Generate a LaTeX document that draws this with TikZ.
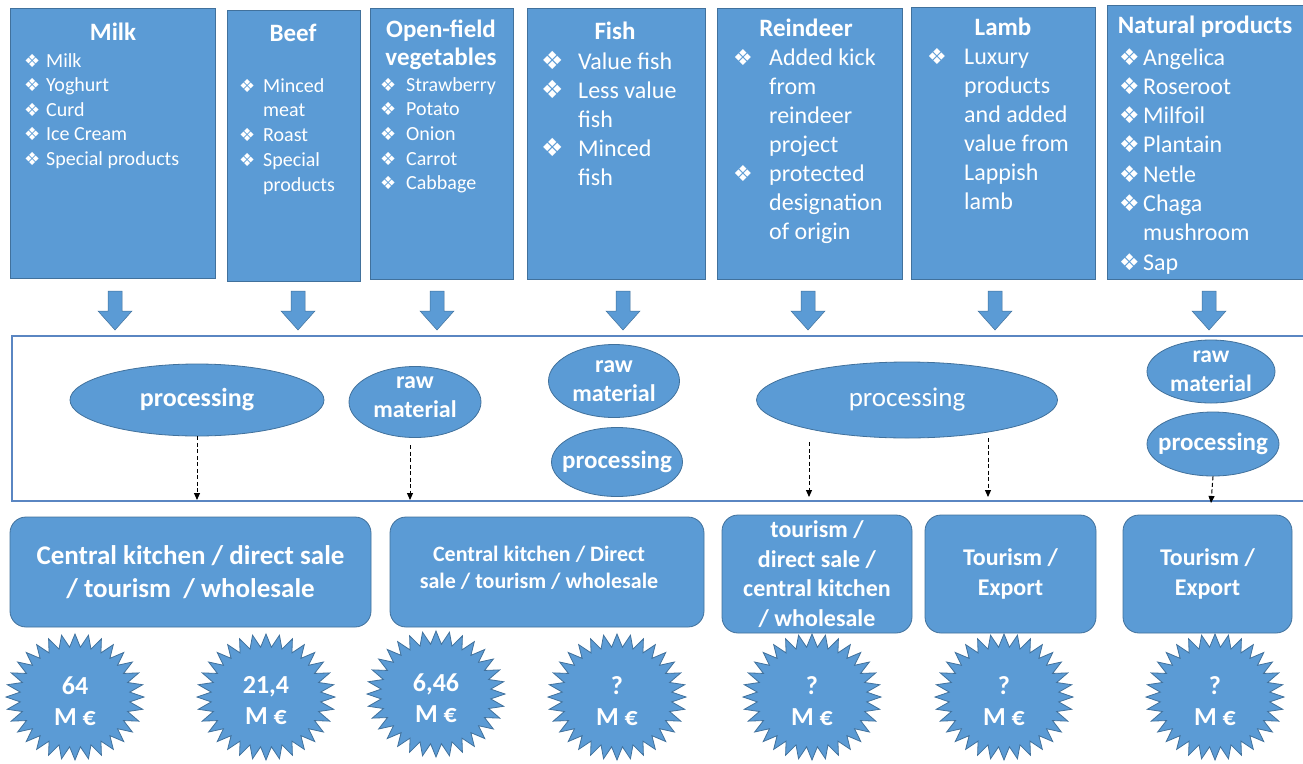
\documentclass[tikz,border=0pt]{standalone}
\usepackage{fontspec}
\setmainfont{Carlito}
\newfontfamily\symfont{DejaVu Sans}
\usepackage{array}
\usetikzlibrary{shapes.geometric, arrows.meta}

\definecolor{boxblue}{HTML}{5B9BD5}
\definecolor{boxedge}{HTML}{41719C}
\definecolor{framecol}{HTML}{5A86C2}

% diamond bullet used in the product lists
\newcommand\bl[1][18]{{\symfont\fontsize{#1}{#1}\selectfont ❖}}

% 32-point burst with a value inside
\newcommand\moneystar[4]{%
  \filldraw[burstshape] plot[variable=\k, samples at={0,...,63}]
    ({#2+(69-14*mod(\k,2))*cos(90+\k*5.625)}, {#3+(63-13*mod(\k,2))*sin(90+\k*5.625)}) -- cycle;
  \node[bursttext] (#1) at (#2,{#3+4}) {#4};
}

\begin{document}
\begin{tikzpicture}[x=1pt, y=-1pt,
  topbox/.style={rectangle, draw=boxedge, line width=0.8pt, fill=boxblue, inner sep=0pt, anchor=north west},
  outbox/.style={rectangle, draw=boxedge, line width=0.8pt, fill=boxblue, rounded corners=16pt, inner sep=0pt, text=white, align=center},
  ovalnode/.style={ellipse, draw=boxedge, line width=0.8pt, fill=boxblue, inner sep=0pt},
  ovaltext/.style={text=white, align=center, inner sep=0pt},
  titletext/.style={text=white, font=\bfseries\fontsize{25}{30}\selectfont, inner sep=0pt, anchor=base},
  listtext/.style={text=white, inner sep=0pt, anchor=base west},
  blockarrow/.style={fill=boxblue, draw=boxedge, line width=0.5pt},
  flowarrow/.style={black, line width=1pt, dash pattern=on 4pt off 2.5pt, -{Triangle[length=7pt,width=6pt]}},
  burstshape/.style={fill=boxblue, draw=boxedge, line width=0.8pt},
  bursttext/.style={text=white, align=center, inner sep=0pt, font=\bfseries\fontsize{26}{31}\selectfont}]

\useasboundingbox (0,0) rectangle (1303,763);

% ---------- product groups ----------
\node[topbox, minimum width=205pt, minimum height=270pt] (milk) at (10,8) {};
\node[topbox, minimum width=133pt, minimum height=271pt] (beef) at (227,10) {};
\node[topbox, minimum width=143pt, minimum height=271pt] (veg) at (370,8) {};
\node[topbox, minimum width=178pt, minimum height=271pt] (fish) at (527,8) {};
\node[topbox, minimum width=185pt, minimum height=271pt] (reindeer) at (717,8) {};
\node[topbox, minimum width=184pt, minimum height=272pt] (lamb) at (911,7) {};
\node[topbox, minimum width=205pt, minimum height=274pt] (natural) at (1107,5) {};

\node[titletext] (milkT) at (113,40) {Milk};
\node[titletext] (beefT) at (293,41) {Beef};
\node[titletext] (vegT) at (441,37) {\begin{tabular}[t]{@{}c@{}}Open-field\\[-2pt]vegetables\end{tabular}};
\node[titletext] (fishT) at (615,39) {Fish};
\node[titletext] (reinT) at (806,36) {Reindeer};
\node[titletext] (lambT) at (1003,35) {Lamb};
\node[titletext] (natT) at (1205,33) {Natural products};

\node[listtext, font=\fontsize{20}{24.5}\selectfont] (milkL) at (24,67)
  {\begin{tabular}[t]{@{}p{22pt}@{}l@{}}
   \bl & Milk\\ \bl & Yoghurt\\ \bl & Curd\\ \bl & Ice Cream\\ \bl & Special products
   \end{tabular}};
\node[listtext, font=\fontsize{20}{24.8}\selectfont] (beefL) at (239,92)
  {\begin{tabular}[t]{@{}p{24pt}@{}l@{}}
   \bl & Minced\\ & meat\\ \bl & Roast\\ \bl & Special\\ & products
   \end{tabular}};
\node[listtext, font=\fontsize{20}{24.7}\selectfont] (vegL) at (380,91)
  {\begin{tabular}[t]{@{}p{26pt}@{}l@{}}
   \bl & Strawberry\\ \bl & Potato\\ \bl & Onion\\ \bl & Carrot\\ \bl & Cabbage
   \end{tabular}};
\node[listtext, font=\fontsize{24}{29}\selectfont] (fishL) at (541,69)
  {\begin{tabular}[t]{@{}p{37pt}@{}l@{}}
   \bl[25] & Value fish\\ \bl[25] & Less value\\ & fish\\ \bl[25] & Minced\\ & fish
   \end{tabular}};
\node[listtext, font=\fontsize{24}{29}\selectfont] (reinL) at (733,65)
  {\begin{tabular}[t]{@{}p{36pt}@{}l@{}}
   \bl[22] & Added kick\\ & from\\ & reindeer\\ & project\\ \bl[22] & protected\\ & designation\\ & of origin
   \end{tabular}};
\node[listtext, font=\fontsize{24}{29}\selectfont] (lambL) at (927,64)
  {\begin{tabular}[t]{@{}p{37pt}@{}l@{}}
   \bl[22] & Luxury\\ & products\\ & and added\\ & value from\\ & Lappish\\ & lamb
   \end{tabular}};
\node[listtext, font=\fontsize{24}{29.3}\selectfont] (natL) at (1119,65)
  {\begin{tabular}[t]{@{}p{24pt}@{}l@{}}
   \bl[23] & Angelica\\ \bl[23] & Roseroot\\ \bl[23] & Milfoil\\ \bl[23] & Plantain\\ \bl[23] & Netle\\ \bl[23] & Chaga\\ & mushroom\\ \bl[23] & Sap
   \end{tabular}};

% ---------- block arrows into the processing stage ----------
\foreach \ax in {115,298,437,623,808,995,1209}
  \filldraw[blockarrow] ({\ax-7},291) -- ({\ax+7},291) -- ({\ax+7},311) -- ({\ax+17},311)
     -- (\ax,330) -- ({\ax-17},311) -- ({\ax-7},311) -- cycle;

% ---------- processing stage ----------
\draw[framecol, line width=1.4pt] (1303,336) -- (12,336) -- (12,501) -- (1303,501);

\node[ovalnode, minimum width=254pt, minimum height=72pt] (procA) at (197,400) {};
\node[ovaltext, font=\bfseries\fontsize{26}{30}\selectfont] (procAt) at (procA) {processing};
\node[ovalnode, minimum width=132pt, minimum height=71pt] (rawA) at (415,402) {};
\node[ovaltext, font=\bfseries\fontsize{24}{29}\selectfont] (rawAt) at (415,397) {raw\\material};
\node[ovalnode, minimum width=131pt, minimum height=73pt] (rawB) at (614,381) {};
\node[ovaltext, font=\bfseries\fontsize{24}{29}\selectfont] (rawBt) at (rawB) {raw\\material};
\node[ovalnode, minimum width=131pt, minimum height=69pt] (procB) at (617,462) {};
\node[ovaltext, font=\bfseries\fontsize{25}{29}\selectfont] (procBt) at (procB) {processing};
\node[ovalnode, minimum width=301pt, minimum height=76pt] (procC) at (907,400) {};
\node[ovaltext, font=\fontsize{27}{30}\selectfont] (procCt) at (procC) {processing};
\node[ovalnode, minimum width=128pt, minimum height=63pt] (rawC) at (1211,371.5) {};
\node[ovaltext, font=\bfseries\fontsize{23.5}{29}\selectfont] (rawCt) at (rawC) {raw\\material};
\node[ovalnode, minimum width=132pt, minimum height=64pt] (procD) at (1213,444) {};
\node[ovaltext, font=\bfseries\fontsize{25}{29}\selectfont] (procDt) at (procD) {processing};

\coordinate (endA) at (197,500);
\coordinate (startB) at (410,445);
\coordinate (endB) at (410,500);
\coordinate (startC) at (809,442);
\coordinate (endC) at (809,497);
\coordinate (startD) at (988,438);
\coordinate (endD) at (988,497);
\coordinate (endE) at (1211,503);

\draw[flowarrow] (procA.south) -- (endA);
\draw[flowarrow] (startB) -- (endB);
\draw[flowarrow] (startC) -- (endC);
\draw[flowarrow] (startD) -- (endD);
\draw[flowarrow] (procD.south) -- (endE);

% ---------- sales channels ----------
\node[outbox, minimum width=361pt, minimum height=110pt, font=\bfseries\fontsize{27}{33}\selectfont] (outA) at (190.5,572)
  {Central kitchen / direct sale\\/ tourism~~/ wholesale};
\node[outbox, minimum width=314pt, minimum height=110pt] (outB) at (547,572) {};
\node[ovaltext, font=\bfseries\fontsize{22}{27}\selectfont] (outBt) at (539,568)
  {Central kitchen / Direct\\sale / tourism / wholesale};
\node[outbox, minimum width=190pt, minimum height=118pt, font=\bfseries\fontsize{24}{29.5}\selectfont] (outC) at (817,574)
  {tourism /\\direct sale /\\central kitchen\\/ wholesale};
\node[outbox, minimum width=171pt, minimum height=118pt, font=\bfseries\fontsize{24}{30}\selectfont] (outD) at (1010.5,574)
  {Tourism /\\Export};
\node[outbox, minimum width=169pt, minimum height=118pt, font=\bfseries\fontsize{24}{30}\selectfont] (outE) at (1207.5,574)
  {Tourism /\\Export};

% ---------- value bursts ----------
\moneystar{valA}{75}{697}{64\\M €}
\moneystar{valB}{266}{697}{21,4\\M €}
\moneystar{valC}{436}{694}{6,46\\M €}
\moneystar{valD}{617}{697}{?\\M €}
\moneystar{valE}{812}{697}{?\\M €}
\moneystar{valF}{1004}{697}{?\\M €}
\moneystar{valG}{1215}{697}{?\\M €}

\end{tikzpicture}
\end{document}
